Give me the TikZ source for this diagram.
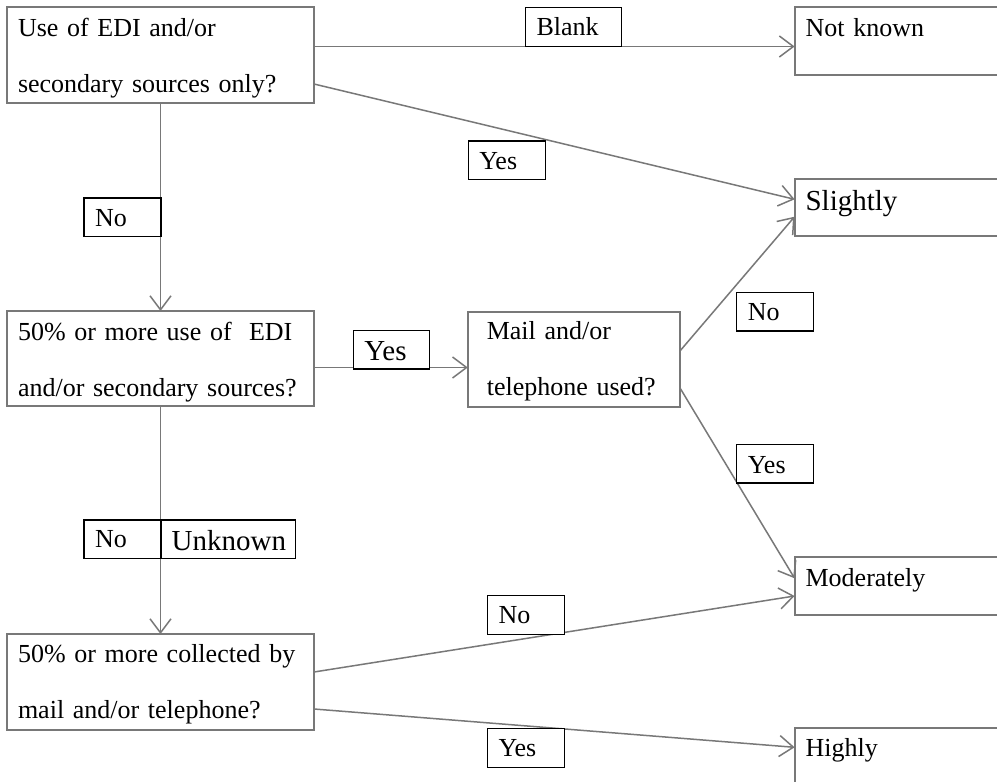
\documentclass[tikz,border=0pt]{standalone}
\usepackage{fontspec}
\setmainfont{Liberation Serif}
\usetikzlibrary{arrows.meta}
\definecolor{linegray}{RGB}{120,120,120}
\tikzset{
  box/.style={draw=linegray, line width=2pt, fill=white, anchor=north west,
    inner xsep=11pt, inner ysep=0pt, outer sep=0pt, align=left,
    font=\fontsize{26}{56}\selectfont},
  bigtext/.style={font=\fontsize{29}{56}\selectfont},
  lab/.style={draw=black, line width=1.2pt, fill=white, anchor=north west,
    inner xsep=11pt, inner ysep=0pt, outer sep=0pt, align=left,
    font=\fontsize{26}{30}\selectfont, text height=28.5pt, text depth=10.3pt},
  biglab/.style={font=\fontsize{29}{30}\selectfont, text height=30pt, text depth=8.3pt},
  flow/.style={draw=linegray, line width=1.5pt,
    -{Straight Barb[length=14pt,width=21pt,line width=1.5pt]}}
}
\begin{document}
\begin{tikzpicture}[x=1pt,y=-1pt]
\useasboundingbox (0,0) rectangle (997,782);
\clip (0,0) rectangle (997,782);
\fill[white] (0,0) rectangle (997,782);

% question boxes
\node[box, text width=285pt, text height=29pt, text depth=67pt] (b1) at (7,7)
  {Use of EDI and/or\\secondary sources only?};
\node[box, text width=285pt, text height=29pt, text depth=66pt] (b2) at (7,311)
  {50\% or more use of\ \ EDI\\and/or secondary sources?};
\node[box, text width=285pt, text height=28.7pt, text depth=67.3pt] (b3) at (7,634)
  {50\% or more collected by\\mail and/or telephone?};
\node[box, inner xsep=19pt, text width=174.4pt, text height=27.6pt, text depth=68pt] (mail) at (467.8,311.7)
  {Mail and/or\\telephone used?};

% outcome boxes
\node[box, text width=208pt, text height=28.7pt, text depth=39pt] (nk) at (794.6,7.3) {Not known};
\node[box, bigtext, text width=208pt, text height=31pt, text depth=26pt] (sl) at (794.6,179) {Slightly};
\node[box, text width=208pt, text height=28.7pt, text depth=29pt] (mod) at (794.6,557.3) {Moderately};
\node[box, text width=208pt, text height=28.4pt, text depth=70pt] (hi) at (794.6,728.3) {Highly};

% connector end points on the box edges
\coordinate (c1) at ([yshift=-39.5pt]b1.north east);
\coordinate (c2) at ([yshift=-77pt]b1.north east);
\coordinate (c2e) at ([yshift=-20.3pt]sl.north west);
\coordinate (c4) at ([yshift=-56.5pt]b2.north east);
\coordinate (c5) at ([yshift=-39pt]mail.north east);
\coordinate (c5e) at ([yshift=-37.7pt]sl.north west);
\coordinate (c6) at ([yshift=-76.6pt]mail.north east);
\coordinate (c6e) at ([yshift=-21pt]mod.north west);
\coordinate (c8) at ([yshift=-38pt]b3.north east);
\coordinate (c8e) at ([yshift=-38.7pt]mod.north west);
\coordinate (c9) at ([yshift=-75pt]b3.north east);
\coordinate (c9e) at ([yshift=-19pt]hi.north west);

% connectors
\draw[flow] (c1) -- (c1 -| nk.west);
\draw[flow] (c2) -- (c2e);
\draw[flow] (b1.south) -- (b2.north);
\draw[flow] (c4) -- (c4 -| mail.west);
\draw[flow] (c5) -- (c5e);
\draw[flow] (c6) -- (c6e);
\draw[flow] (b2.south) -- (b3.north);
\draw[flow] (c8) -- (c8e);
\draw[flow] (c9) -- (c9e);

% branch labels
\node[lab, text width=74pt] (lblank) at (525.6,7.3) {Blank};
\node[lab, text width=55pt, text height=28.3pt] (lyes1) at (468.3,141) {Yes};
\node[lab, text width=55pt, text height=28pt] (lno1) at (84,198) {No};
\node[lab, biglab, text width=53.8pt] (lyes2) at (353.4,330.7) {Yes};
\node[lab, text width=54.7pt, text height=28pt] (lno2) at (736.8,292.7) {No};
\node[lab, text width=54.7pt, text depth=9.7pt] (lyes3) at (736.8,444.7) {Yes};
\node[lab, text width=55pt, text height=27.7pt, text depth=10.6pt] (lno3) at (84,520) {No};
\node[lab, biglab, inner xsep=10.7pt, text width=112.9pt, text height=30.7pt, text depth=7.6pt] (lunk) at (161,520) {Unknown};
\node[lab, text width=54.7pt, text height=27.6pt, text depth=11pt] (lno4) at (487.5,595.7) {No};
\node[lab, text width=54.7pt, text height=28.4pt, text depth=10.6pt] (lyes4) at (487.5,728.3) {Yes};
\end{tikzpicture}
\end{document}
